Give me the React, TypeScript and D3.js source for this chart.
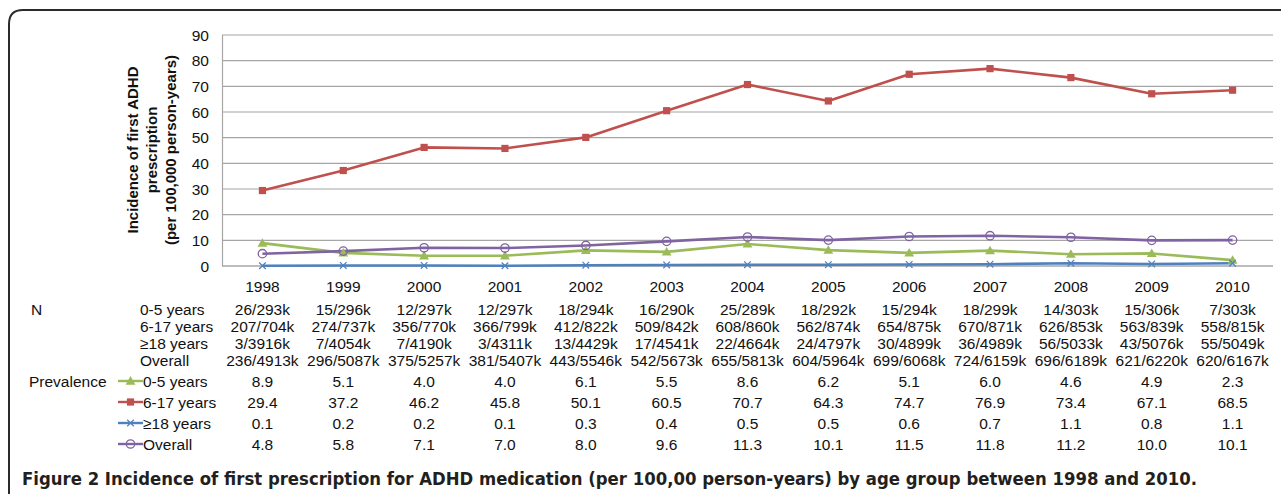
import React from "react";
import * as d3 from "d3";

const years = ["1998","1999","2000","2001","2002","2003","2004","2005","2006","2007","2008","2009","2010"];
const yTicks = [0,10,20,30,40,50,60,70,80,90];

const prev05 = [8.9,5.1,4.0,4.0,6.1,5.5,8.6,6.2,5.1,6.0,4.6,4.9,2.3];
const prev617 = [29.4,37.2,46.2,45.8,50.1,60.5,70.7,64.3,74.7,76.9,73.4,67.1,68.5];
const prev18 = [0.1,0.2,0.2,0.1,0.3,0.4,0.5,0.5,0.6,0.7,1.1,0.8,1.1];
const prevAll = [4.8,5.8,7.1,7.0,8.0,9.6,11.3,10.1,11.5,11.8,11.2,10.0,10.1];

const n05 = ["26/293k","15/296k","12/297k","12/297k","18/294k","16/290k","25/289k","18/292k","15/294k","18/299k","14/303k","15/306k","7/303k"];
const n617 = ["207/704k","274/737k","356/770k","366/799k","412/822k","509/842k","608/860k","562/874k","654/875k","670/871k","626/853k","563/839k","558/815k"];
const n18 = ["3/3916k","7/4054k","7/4190k","3/4311k","13/4429k","17/4541k","22/4664k","24/4797k","30/4899k","36/4989k","56/5033k","43/5076k","55/5049k"];
const nAll = ["236/4913k","296/5087k","375/5257k","381/5407k","443/5546k","542/5673k","655/5813k","604/5964k","699/6068k","724/6159k","696/6189k","621/6220k","620/6167k"];

const groupLabels = ["0-5 years","6-17 years","\u226518 years","Overall"];
const yTitle = ["Incidence of first ADHD","prescription","(per 100,000 person-years)"];
const captionBold = "Figure 2";
const captionRest = " Incidence of first prescription for ADHD medication (per 100,00 person-years) by age group between 1998 and 2010.";

const series = [
  { name: "0-5 years", values: prev05, color: "#9BBB59", marker: "triangle" },
  { name: "6-17 years", values: prev617, color: "#C0504D", marker: "square" },
  { name: "\u226518 years", values: prev18, color: "#4F81BD", marker: "x" },
  { name: "Overall", values: prevAll, color: "#8064A2", marker: "circle" },
];
const nRows = [n05, n617, n18, nAll];

const FONT = "'Liberation Sans', Arial, Helvetica, sans-serif";

function Marker({ type, color, x, y }: { type: string; color: string; x: number; y: number }) {
  if (type === "square") {
    return <rect x={x - 3.6} y={y - 3.6} width={7.2} height={7.2} fill={color} />;
  }
  if (type === "triangle") {
    const p = d3.symbol().type(d3.symbolTriangle).size(42)();
    return <path d={p || ""} transform={`translate(${x},${y + 0.8})`} fill={color} />;
  }
  if (type === "x") {
    const p = d3.symbol().type((d3 as any).symbolX || d3.symbolCross).size(30)();
    return <path d={p || ""} transform={`translate(${x},${y})`} fill="none" stroke={color} strokeWidth={1.2} />;
  }
  return <circle cx={x} cy={y} r={4.2} fill="none" stroke={color} strokeWidth={1.3} />;
}

export default function App() {
  const W = 1281, H = 494;
  const x = d3.scaleBand<string>().domain(years).range([222, 1273]);
  const y = d3.scaleLinear().domain([0, 90]).range([266, 35]);
  const cx = (i: number) => (x(years[i]) as number) + x.bandwidth() / 2;
  const line = d3.line<number>().x((_, i) => cx(i)).y((d) => y(d));

  const yearRowY = 286;
  const nRowY = [309, 326, 343, 360];
  const pRowY = [381, 402, 423, 444];

  return (
    <svg width={W} height={H} style={{ position: "absolute", left: 0, top: 0, background: "#fff" }} fontFamily={FONT}>
      {/* frame */}
      <path d={`M9,${H + 5} L9,24 Q9,10 23,10 L${W + 5},10`} fill="none" stroke="#2b2b2b" strokeWidth={2} />

      {/* gridlines */}
      {yTicks.filter((t) => t > 0).map((t) => (
        <line key={t} x1={222} x2={1273} y1={y(t)} y2={y(t)} stroke="#a6a6a6" strokeWidth={1.2} />
      ))}
      <line x1={222} x2={1273} y1={y(0)} y2={y(0)} stroke="#bdbdbd" strokeWidth={2} />
      <line x1={222.5} x2={222.5} y1={y(90)} y2={y(0)} stroke="#a6a6a6" strokeWidth={1.2} />

      {/* y tick labels */}
      {yTicks.map((t) => (
        <text key={t} x={209} y={y(t)} dy="0.36em" textAnchor="end" fontSize={15.5} fill="#111">{t}</text>
      ))}

      {/* y title */}
      {yTitle.map((s, i) => (
        <text key={i} transform={`translate(${[133, 152, 171][i]},150) rotate(-90)`} dy="0.36em" textAnchor="middle" fontSize={15} fontWeight="bold" fill="#111">{s}</text>
      ))}

      {/* lines */}
      {series.map((s) => (
        <path key={s.name} d={line(s.values) || ""} fill="none" stroke={s.color} strokeWidth={2.6} strokeLinejoin="round" />
      ))}
      {series.map((s) => (
        <g key={s.name + "m"}>
          {s.values.map((v, i) => (
            <Marker key={i} type={s.marker} color={s.color} x={cx(i)} y={y(v)} />
          ))}
        </g>
      ))}

      {/* year labels */}
      {years.map((yr, i) => (
        <text key={yr} x={cx(i)} y={yearRowY} dy="0.36em" textAnchor="middle" fontSize={15.5} fill="#111">{yr}</text>
      ))}

      {/* table N */}
      <text x={31} y={nRowY[0]} dy="0.36em" fontSize={15.5} fill="#111">N</text>
      {groupLabels.map((g, r) => (
        <text key={g} x={140} y={nRowY[r]} dy="0.36em" fontSize={15.5} fill="#111">{g}</text>
      ))}
      {nRows.map((row, r) =>
        row.map((v, i) => (
          <text key={r + "-" + i} x={cx(i)} y={nRowY[r]} dy="0.36em" textAnchor="middle" fontSize={15.5} fill="#111">{v}</text>
        ))
      )}

      {/* table Prevalence */}
      <text x={29} y={pRowY[0]} dy="0.36em" fontSize={15.5} fill="#111">Prevalence</text>
      {series.map((s, r) => (
        <g key={s.name + "leg"}>
          <line x1={118} x2={143} y1={pRowY[r]} y2={pRowY[r]} stroke={s.color} strokeWidth={2.4} />
          <Marker type={s.marker} color={s.color} x={130.5} y={pRowY[r]} />
          <text x={143} y={pRowY[r]} dy="0.36em" fontSize={15.5} fill="#111">{s.name}</text>
          {s.values.map((v, i) => (
            <text key={i} x={cx(i)} y={pRowY[r]} dy="0.36em" textAnchor="middle" fontSize={15.5} fill="#111">{v.toFixed(1)}</text>
          ))}
        </g>
      ))}

      {/* caption */}
      <text x={22} y={485} fontSize={18} fontWeight="bold" fill="#231f20" textLength={1175} lengthAdjust="spacingAndGlyphs"
        fontFamily="'Liberation Sans Narrow', 'DejaVu Sans Condensed', 'Open Sans', sans-serif">
        <tspan fontWeight="bold">{captionBold}</tspan>
        <tspan fontWeight="600">{captionRest}</tspan>
      </text>
    </svg>
  );
}
